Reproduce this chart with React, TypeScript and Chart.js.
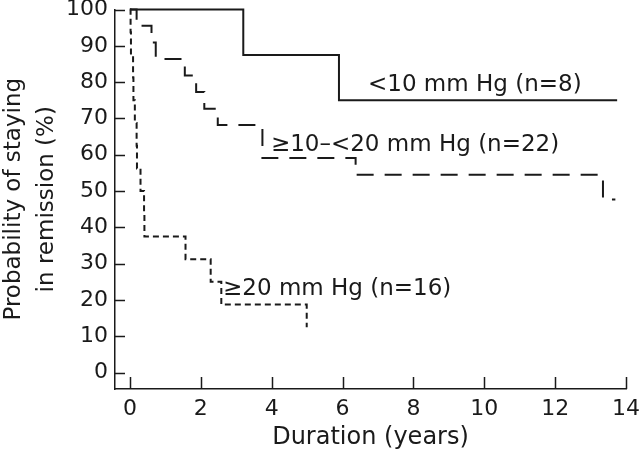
import React, { useEffect, useRef } from "react";
import { Chart, registerables } from "chart.js";

Chart.register(...registerables);

// Kaplan-Meier step data (years, % staying in remission)
const lowTimes = [0, 3.2, 5.9, 13.75];
const lowSurvival = [100, 87.5, 75, 75];

const midTimes = [0, 0.19, 0.61, 0.73, 1.55, 1.87, 2.1, 2.48, 3.74, 6.37, 13.35, 13.7];
const midSurvival = [100, 95.5, 90.9, 86.4, 81.8, 77.3, 72.7, 68.2, 59.1, 54.5, 47.7, 47.7];

const highTimes = [0, 0.02, 0.03, 0.09, 0.1, 0.14, 0.19, 0.2, 0.3, 0.4, 0.41, 1.57, 2.28, 2.58, 4.99];
const highSurvival = [100, 93.75, 87.5, 81.25, 75, 68.75, 62.5, 56.25, 50, 43.75, 37.5, 31.25, 25, 18.75, 12.5];

const xTicks = [0, 2, 4, 6, 8, 10, 12, 14];
const yTicks = [0, 10, 20, 30, 40, 50, 60, 70, 80, 90, 100];

const seriesNames = ["<10 mm Hg (n=8)", "≥10–<20 mm Hg (n=22)", "≥20 mm Hg (n=16)"];
// label anchor points in data units (left edge, vertical middle)
const labelAnchorX = [6.72, 3.98, 2.63];
const labelAnchorY = [79.2, 62.8, 22.9];

const xTitle = "Duration (years)";
const yTitleLines = ["Probability of staying", "in remission (%)"];

const FONT = "'DejaVu Sans', sans-serif";
const INK = "#1a1a1a";

const toPoints = (xs: number[], ys: number[]) => xs.map((x, i) => ({ x, y: ys[i] }));

const inwardTicks = {
  id: "inwardTicks",
  afterDraw(chart: any) {
    const { ctx, chartArea, scales } = chart;
    ctx.save();
    ctx.strokeStyle = INK;
    ctx.lineWidth = 1.5;
    ctx.beginPath();
    for (const v of yTicks) {
      const py = Math.round(scales.y.getPixelForValue(v)) + 0.5;
      ctx.moveTo(chartArea.left, py);
      ctx.lineTo(chartArea.left + 10, py);
    }
    for (const v of xTicks) {
      const px = Math.round(scales.x.getPixelForValue(v)) + 0.5;
      ctx.moveTo(px, chartArea.bottom);
      ctx.lineTo(px, chartArea.bottom - 12);
    }
    ctx.stroke();
    ctx.restore();
  },
};

const textLayer = {
  id: "textLayer",
  afterDraw(chart: any) {
    const { ctx, scales, chartArea } = chart;
    ctx.save();
    ctx.fillStyle = INK;
    ctx.font = `23px ${FONT}`;
    ctx.textAlign = "left";
    ctx.textBaseline = "middle";
    seriesNames.forEach((name, i) => {
      ctx.fillText(name, scales.x.getPixelForValue(labelAnchorX[i]), scales.y.getPixelForValue(labelAnchorY[i]));
    });
    // y axis title (two rotated lines)
    const cy = (chartArea.top + chartArea.bottom) / 2;
    ctx.textAlign = "center";
    ctx.font = `23px ${FONT}`;
    const lineX = [14, 47];
    yTitleLines.forEach((line, i) => {
      ctx.save();
      ctx.translate(lineX[i], cy);
      ctx.rotate(-Math.PI / 2);
      ctx.fillText(line, 0, 0);
      ctx.restore();
    });
    ctx.restore();
  },
};

export default function App() {
  const ref = useRef<HTMLCanvasElement | null>(null);

  useEffect(() => {
    document.body.style.margin = "0";
    const canvas = ref.current;
    if (!canvas) return;
    const common = {
      stepped: true,
      pointRadius: 0,
      borderColor: INK,
      borderWidth: 2,
      fill: false,
      clip: false,
      borderCapStyle: "butt",
    };
    const chart = new Chart(canvas, {
      type: "line",
      data: {
        datasets: [
          { ...common, label: seriesNames[0], data: toPoints(lowTimes, lowSurvival) },
          { ...common, label: seriesNames[1], data: toPoints(midTimes, midSurvival), borderDash: [17, 11] },
          { ...common, label: seriesNames[2], data: toPoints(highTimes, highSurvival), borderDash: [6, 4] },
        ],
      } as any,
      options: {
        animation: false,
        responsive: false,
        devicePixelRatio: 1,
        layout: { padding: { top: 9.5, right: 14, left: 0, bottom: 0 } },
        plugins: { legend: { display: false }, tooltip: { enabled: false } },
        scales: {
          x: {
            type: "linear",
            min: -0.42,
            max: 14,
            afterBuildTicks: (s: any) => { s.ticks = xTicks.map((v) => ({ value: v })); },
            afterFit: (s: any) => { s.height = 454 - 389 - 9.5 + 9.5; s.paddingLeft = 0; s.paddingRight = 0; },
            grid: { display: false, drawTicks: false },
            border: { display: true, color: INK, width: 1.5 },
            ticks: { color: INK, font: { family: FONT, size: 22 }, padding: 7, maxRotation: 0 },
            title: { display: true, text: xTitle, color: INK, font: { family: FONT, size: 24 }, padding: { top: 0, bottom: 2 } },
          },
          y: {
            type: "linear",
            min: -4.5,
            max: 100,
            afterBuildTicks: (s: any) => { s.ticks = yTicks.map((v) => ({ value: v })); },
            afterFit: (s: any) => { s.width = 115; s.paddingTop = 0; s.paddingBottom = 0; },
            grid: { display: false, drawTicks: false },
            border: { display: true, color: INK, width: 1.5 },
            ticks: { color: INK, font: { family: FONT, size: 22 }, padding: 7 },
          },
        },
      } as any,
      plugins: [inwardTicks, textLayer],
    });
    return () => chart.destroy();
  }, []);

  return <canvas ref={ref} width={640} height={454} style={{ display: "block", width: 640, height: 454 }} />;
}
